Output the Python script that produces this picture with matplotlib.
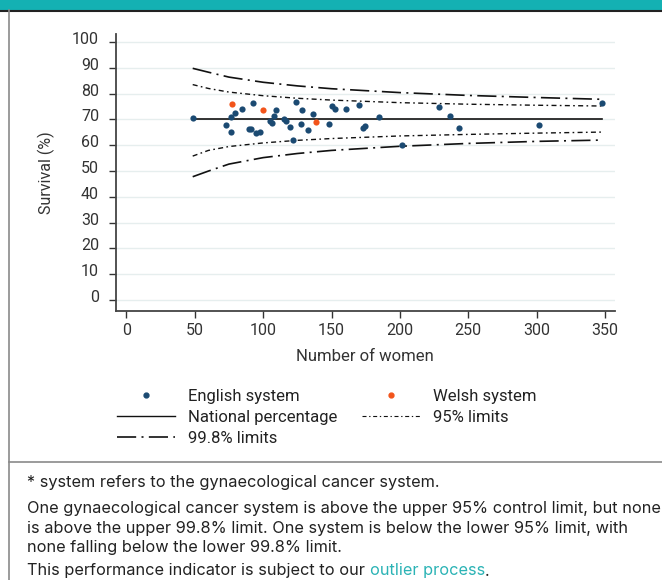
import matplotlib
matplotlib.use("Agg")
import matplotlib.pyplot as plt
import matplotlib.transforms as mtransforms
from matplotlib.lines import Line2D
from matplotlib.patches import Rectangle

# systems (number of women, survival %)
english_n = [48.5, 72.9, 76.5, 76.8, 79.7, 84.6, 89.9, 91.4, 92.9, 94.8, 97.8,
             105.1, 106.3, 107.8, 109.7, 115.5, 116.8, 119.7, 121.7, 123.8,
             127.7, 128.7, 132.6, 136.5, 148.4, 150.6, 152.6, 160.6, 170.4,
             172.8, 174.7, 184.5, 201.6, 228.6, 236.7, 243.5, 301.5, 347.6]
english_pct = [70.4, 67.9, 65.0, 70.9, 72.6, 74.0, 66.4, 66.4, 76.5, 64.9, 65.3,
               69.4, 68.7, 71.2, 73.5, 70.3, 69.4, 67.0, 61.9, 76.9,
               68.3, 73.5, 66.0, 72.2, 68.1, 75.2, 73.9, 73.9, 75.4,
               66.5, 67.6, 70.9, 60.2, 74.9, 71.3, 66.8, 67.7, 76.2]
welsh_n = [77.5, 99.7, 138.7]
welsh_pct = [76.1, 73.5, 69.0]

national_pct = 70.1

# control limits
limit_n = [48.5, 60, 75, 100, 125, 150, 200, 250, 300, 347.6]
upper_998 = [89.8, 88.3, 86.4, 84.4, 83.0, 81.9, 80.4, 79.3, 78.5, 77.8]
upper_95 = [83.5, 82.0, 80.6, 79.2, 78.2, 77.5, 76.5, 75.9, 75.5, 75.2]
lower_95 = [55.8, 58.0, 59.5, 60.9, 61.9, 62.6, 63.6, 64.2, 64.7, 65.1]
lower_998 = [47.8, 50.0, 52.7, 55.2, 56.8, 58.0, 59.6, 60.7, 61.5, 62.0]

x_ticks = [0, 50, 100, 150, 200, 250, 300, 350]
y_ticks = list(range(0, 101, 10))

english_col = "#1b4a72"
welsh_col = "#f2541b"
teal = "#14b1b3"
dash_998 = (0, (11.5, 3.2, 1.2, 3.2))
dash_95 = (0, (3.6, 2.4, 1.2, 2.4))

plt.rcParams["font.family"] = ["Roboto", "DejaVu Sans"]

fig = plt.figure(figsize=(6.62, 5.8), dpi=100)
W, H = 662, 580

# frame of the card
fig.add_artist(Rectangle((0, 1 - 9.5 / H), 1, 9.5 / H, transform=fig.transFigure,
                         color=teal, lw=0))
fig.add_artist(Line2D([0, 1], [1 - 10.5 / H] * 2, transform=fig.transFigure,
                      color="#222222", lw=1.5))
fig.add_artist(Line2D([9 / W] * 2, [0, 1 - 10 / H], transform=fig.transFigure,
                      color="#8a8a8a", lw=1.2))
fig.add_artist(Line2D([9 / W, 1], [1 - 462 / H] * 2, transform=fig.transFigure,
                      color="#8a8a8a", lw=1.2))

ax = fig.add_axes([115.7 / W, 1 - 310.7 / H, (615 - 115.7) / W, (310.7 - 34) / H])
ax.set_xlim(-7.8, 357.3)
ax.set_ylim(-4.1, 103.1)

for y in y_ticks:
    ax.axhline(y, color="#e6eeee", lw=1.0, zorder=0)

ax.plot(limit_n, upper_998, color="#111111", lw=1.2, linestyle=dash_998)
ax.plot(limit_n, lower_998, color="#111111", lw=1.2, linestyle=dash_998)
ax.plot(limit_n, upper_95, color="#111111", lw=1.0, linestyle=dash_95)
ax.plot(limit_n, lower_95, color="#111111", lw=1.0, linestyle=dash_95)
ax.plot([limit_n[0], limit_n[-1]], [national_pct, national_pct], color="#111111", lw=1.2)

ax.scatter(english_n, english_pct, s=20, color=english_col, zorder=3, linewidths=0)
ax.scatter(welsh_n, welsh_pct, s=20, color=welsh_col, zorder=3, linewidths=0)

ax.set_xticks(x_ticks)
ax.set_yticks(y_ticks)
ax.tick_params(axis="both", labelsize=11.5, colors="#333333", length=5, width=1.0)
ax.tick_params(axis="y", pad=7)
ax.tick_params(axis="x", pad=4)
# y labels sit a little above their ticks
shift = mtransforms.ScaledTranslation(0, 4 / 100, fig.dpi_scale_trans)
for lab in ax.get_yticklabels():
    lab.set_transform(lab.get_transform() + shift)
for sp in ["top", "right"]:
    ax.spines[sp].set_visible(False)
for sp in ["left", "bottom"]:
    ax.spines[sp].set_color("#444444")
    ax.spines[sp].set_linewidth(1.3)

ax.set_xlabel("Number of women", fontsize=12, color="#333333", labelpad=8)
ax.set_ylabel("Survival (%)", fontsize=11.5, color="#333333", labelpad=12)

# legend
h_eng = Line2D([], [], marker="o", color=english_col, linestyle="none", markersize=3.5)
h_wel = Line2D([], [], marker="o", color=welsh_col, linestyle="none", markersize=3.5)
h_nat = Line2D([], [], color="#111111", lw=1.0)
h_95 = Line2D([], [], color="#111111", lw=0.8, linestyle=dash_95)
h_998 = Line2D([], [], color="#111111", lw=1.2, linestyle=dash_998)
fig.legend([h_eng, h_nat, h_998, h_wel, h_95],
           ["English system", "National percentage", "99.8% limits",
            "Welsh system", "95% limits"],
           ncol=2, loc="upper left", bbox_to_anchor=(101.7 / W, 1 - 374 / H),
           frameon=False, fontsize=12, handlelength=3.5, handletextpad=0.78,
           columnspacing=1.45, labelspacing=0.36, labelcolor="#222222")

# notes
txt_kw = dict(fontsize=11.75, color="#222222", va="center", ha="left",
              family=["Inter", "DejaVu Sans"])
fig.text(27 / W, 1 - 482 / H, "* system refers to the gynaecological cancer system.", **txt_kw)
fig.text(27 / W, 1 - 509 / H,
         "One gynaecological cancer system is above the upper 95% control limit, but none",
         **txt_kw)
fig.text(27 / W, 1 - 528.5 / H,
         "is above the upper 99.8% limit. One system is below the lower 95% limit, with",
         **txt_kw)
fig.text(27 / W, 1 - 547.5 / H, "none falling below the lower 99.8% limit.", **txt_kw)
t1 = fig.text(27 / W, 1 - 571 / H, "This performance indicator is subject to our ", **txt_kw)
fig.canvas.draw()
bb = t1.get_window_extent()
x2 = bb.x1 / fig.bbox.width
t2 = fig.text(x2, 1 - 571 / H, "outlier process", **dict(txt_kw, color="#2bb3b5"))
fig.canvas.draw()
bb2 = t2.get_window_extent()
fig.text(bb2.x1 / fig.bbox.width, 1 - 571 / H, ".", **txt_kw)

fig.savefig("out.png", dpi=100)
